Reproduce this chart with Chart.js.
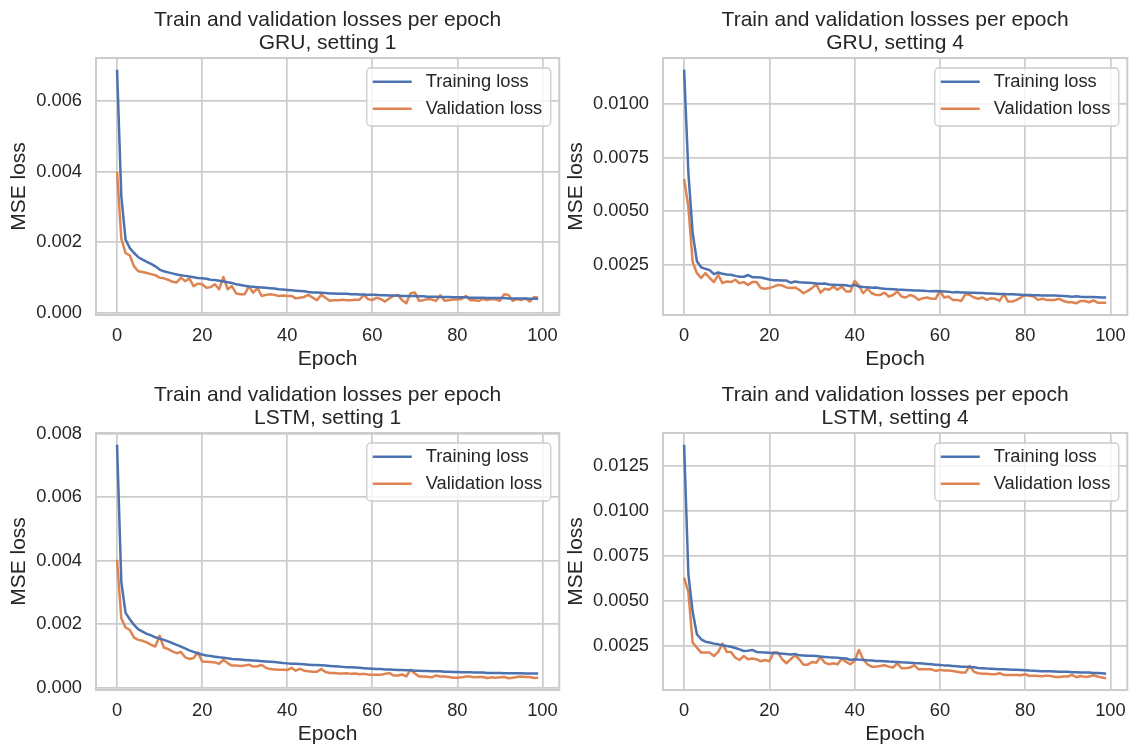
<!DOCTYPE html>
<html>
<head>
<meta charset="utf-8">
<title>Train and validation losses</title>
<script src="https://cdn.jsdelivr.net/npm/chart.js@4.4.1/dist/chart.umd.min.js"></script>
<style>
  body { margin: 0; background: #fff; width: 1136px; height: 749px; overflow: hidden; position: relative; }
  .panel { position: absolute; }
</style>
</head>
<body>
<div class="panel" style="left:0;top:0"><canvas id="gru1" width="568" height="374"></canvas></div>
<div class="panel" style="left:560px;top:0"><canvas id="gru4" width="576" height="374"></canvas></div>
<div class="panel" style="left:0;top:375px"><canvas id="lstm1" width="568" height="374"></canvas></div>
<div class="panel" style="left:560px;top:375px"><canvas id="lstm4" width="576" height="374"></canvas></div>
<script>
// losses per epoch, 100 epochs each
var gru1Train = [0.0069, 0.0033, 0.00207, 0.00183, 0.00169, 0.00157, 0.00150, 0.00144, 0.00138, 0.00131,
  0.00122, 0.00117, 0.00114, 0.00111, 0.00108, 0.00106, 0.00104, 0.00102, 0.00100, 0.00098,
  0.00097, 0.00096, 0.00093, 0.00092, 0.00090, 0.00088, 0.00086, 0.00084, 0.00080, 0.00078,
  0.00076, 0.00074, 0.00073, 0.00072, 0.00071, 0.00070, 0.00069, 0.00068, 0.00066, 0.00065,
  0.00064, 0.00063, 0.00062, 0.00061, 0.00060, 0.00058, 0.00057, 0.00057, 0.00056, 0.00055,
  0.00054, 0.00054, 0.00053, 0.00053, 0.00053, 0.00052, 0.00052, 0.00051, 0.00051, 0.00050,
  0.00050, 0.00050, 0.00049, 0.00049, 0.00048, 0.00048, 0.00048, 0.00047, 0.00047, 0.00047,
  0.00047, 0.00046, 0.00046, 0.00045, 0.00045, 0.00045, 0.00044, 0.00044, 0.00044, 0.00043,
  0.00043, 0.00043, 0.00043, 0.00042, 0.00042, 0.00042, 0.00042, 0.00041, 0.00041, 0.00041,
  0.00041, 0.00041, 0.00040, 0.00040, 0.00040, 0.00040, 0.00040, 0.00039, 0.00039, 0.00039]

var gru1Val = [0.0040, 0.0021, 0.00169, 0.00162, 0.00131, 0.00117, 0.00115, 0.00112, 0.00109, 0.00106,
  0.00099, 0.00097, 0.00093, 0.00087, 0.00085, 0.00099, 0.00089, 0.00096, 0.00075, 0.00082,
  0.00080, 0.00070, 0.00072, 0.00080, 0.00066, 0.00101, 0.00066, 0.00075, 0.00054, 0.00052,
  0.00052, 0.00074, 0.00056, 0.00069, 0.00047, 0.00050, 0.00052, 0.00050, 0.00047, 0.00048,
  0.00047, 0.00047, 0.00040, 0.00042, 0.00044, 0.00050, 0.00042, 0.00035, 0.00050, 0.00042,
  0.00033, 0.00035, 0.00035, 0.00036, 0.00035, 0.00035, 0.00036, 0.00036, 0.00050, 0.00038,
  0.00035, 0.00042, 0.00038, 0.00031, 0.00040, 0.00047, 0.00050, 0.00035, 0.00026, 0.00055,
  0.00057, 0.00033, 0.00035, 0.00038, 0.00037, 0.00033, 0.00049, 0.00033, 0.00035, 0.00037,
  0.00037, 0.00038, 0.00047, 0.00035, 0.00035, 0.00033, 0.00038, 0.00035, 0.00038, 0.00037,
  0.00033, 0.00052, 0.00050, 0.00033, 0.00038, 0.00035, 0.00040, 0.00031, 0.00044, 0.00042]

var gru4Train = [0.0116, 0.0068, 0.0040, 0.00266, 0.00238, 0.00231, 0.00225, 0.00206, 0.00214, 0.00208,
  0.00204, 0.00203, 0.00198, 0.00194, 0.00194, 0.00202, 0.00192, 0.00192, 0.00190, 0.00186,
  0.00181, 0.00178, 0.00178, 0.00177, 0.00176, 0.00166, 0.00172, 0.00168, 0.00167, 0.00166,
  0.00165, 0.00163, 0.00161, 0.00162, 0.00158, 0.00157, 0.00155, 0.00155, 0.00154, 0.00150,
  0.00156, 0.00148, 0.00146, 0.00145, 0.00143, 0.00144, 0.00140, 0.00138, 0.00137, 0.00136,
  0.00134, 0.00133, 0.00132, 0.00131, 0.00130, 0.00130, 0.00129, 0.00127, 0.00126, 0.00127,
  0.00126, 0.00125, 0.00124, 0.00121, 0.00123, 0.00120, 0.00121, 0.00119, 0.00119, 0.00118,
  0.00118, 0.00116, 0.00116, 0.00115, 0.00113, 0.00114, 0.00112, 0.00112, 0.00111, 0.00110,
  0.00109, 0.00109, 0.00108, 0.00108, 0.00107, 0.00107, 0.00106, 0.00106, 0.00105, 0.00104,
  0.00103, 0.00101, 0.00103, 0.00101, 0.00100, 0.00100, 0.00099, 0.00098, 0.00097, 0.00097]

var gru4Val = [0.0065, 0.0052, 0.00263, 0.00211, 0.00188, 0.00211, 0.00188, 0.00169, 0.00203, 0.00164,
  0.00172, 0.00169, 0.00180, 0.00164, 0.00169, 0.00156, 0.00169, 0.00169, 0.00141, 0.00138,
  0.00141, 0.00148, 0.00156, 0.00153, 0.00144, 0.00141, 0.00144, 0.00133, 0.00117, 0.00128,
  0.00141, 0.00159, 0.00120, 0.00138, 0.00133, 0.00148, 0.00133, 0.00148, 0.00125, 0.00125,
  0.00175, 0.00153, 0.00117, 0.00138, 0.00117, 0.00109, 0.00109, 0.00120, 0.00102, 0.00109,
  0.00125, 0.00102, 0.00097, 0.00109, 0.00102, 0.00086, 0.00094, 0.00097, 0.00091, 0.00091,
  0.00128, 0.00097, 0.00102, 0.00086, 0.00086, 0.00081, 0.00113, 0.00109, 0.00097, 0.00091,
  0.00097, 0.00086, 0.00094, 0.00091, 0.00081, 0.00113, 0.00078, 0.00078, 0.00086, 0.00097,
  0.00109, 0.00105, 0.00102, 0.00086, 0.00091, 0.00086, 0.00086, 0.00086, 0.00091, 0.00081,
  0.00075, 0.00075, 0.00070, 0.00081, 0.00081, 0.00075, 0.00084, 0.00073, 0.00073, 0.00073]

var lstm1Train = [0.00765, 0.00333, 0.00236, 0.00216, 0.00198, 0.00184, 0.00177, 0.00170, 0.00165, 0.00159,
  0.00155, 0.00151, 0.00146, 0.00141, 0.00135, 0.00130, 0.00124, 0.00118, 0.00113, 0.00109,
  0.00105, 0.00102, 0.00100, 0.00098, 0.00096, 0.00095, 0.00093, 0.00091, 0.00090, 0.00089,
  0.00088, 0.00087, 0.00086, 0.00085, 0.00084, 0.00083, 0.00082, 0.00081, 0.00080, 0.00078,
  0.00077, 0.00076, 0.00076, 0.00075, 0.00074, 0.00073, 0.00072, 0.00072, 0.00071, 0.00070,
  0.00069, 0.00068, 0.00067, 0.00066, 0.00065, 0.00065, 0.00064, 0.00063, 0.00062, 0.00061,
  0.00060, 0.00059, 0.00059, 0.00058, 0.00058, 0.00057, 0.00056, 0.00056, 0.00055, 0.00055,
  0.00054, 0.00054, 0.00053, 0.00053, 0.00052, 0.00052, 0.00052, 0.00051, 0.00051, 0.00050,
  0.00050, 0.00049, 0.00049, 0.00049, 0.00048, 0.00048, 0.00048, 0.00047, 0.00047, 0.00047,
  0.00047, 0.00046, 0.00046, 0.00046, 0.00046, 0.00046, 0.00045, 0.00045, 0.00045, 0.00045]

var lstm1Val = [0.00403, 0.00219, 0.00190, 0.00182, 0.00158, 0.00151, 0.00148, 0.00143, 0.00135, 0.00130,
  0.00164, 0.00127, 0.00122, 0.00115, 0.00109, 0.00113, 0.00096, 0.00091, 0.00094, 0.00111,
  0.00083, 0.00082, 0.00081, 0.00080, 0.00076, 0.00088, 0.00078, 0.00070, 0.00070, 0.00069,
  0.00070, 0.00073, 0.00067, 0.00068, 0.00072, 0.00063, 0.00059, 0.00058, 0.00057, 0.00057,
  0.00056, 0.00063, 0.00054, 0.00060, 0.00054, 0.00052, 0.00051, 0.00051, 0.00059, 0.00050,
  0.00047, 0.00047, 0.00045, 0.00045, 0.00046, 0.00044, 0.00045, 0.00043, 0.00044, 0.00042,
  0.00041, 0.00041, 0.00041, 0.00044, 0.00047, 0.00039, 0.00039, 0.00042, 0.00036, 0.00057,
  0.00045, 0.00036, 0.00036, 0.00035, 0.00033, 0.00039, 0.00036, 0.00036, 0.00034, 0.00032,
  0.00032, 0.00033, 0.00036, 0.00036, 0.00033, 0.00034, 0.00034, 0.00031, 0.00033, 0.00032,
  0.00033, 0.00034, 0.00030, 0.00032, 0.00034, 0.00036, 0.00034, 0.00034, 0.00031, 0.00032]

var lstm4Train = [0.0137, 0.0065, 0.0044, 0.00315, 0.00287, 0.00274, 0.00269, 0.00263, 0.00259, 0.00254,
  0.00250, 0.00246, 0.00239, 0.00231, 0.00222, 0.00224, 0.00228, 0.00217, 0.00215, 0.00214,
  0.00212, 0.00211, 0.00209, 0.00207, 0.00205, 0.00203, 0.00206, 0.00198, 0.00197, 0.00196,
  0.00195, 0.00194, 0.00191, 0.00189, 0.00187, 0.00186, 0.00184, 0.00182, 0.00180, 0.00172,
  0.00176, 0.00174, 0.00172, 0.00170, 0.00169, 0.00167, 0.00166, 0.00165, 0.00163, 0.00162,
  0.00161, 0.00159, 0.00158, 0.00157, 0.00155, 0.00154, 0.00152, 0.00150, 0.00148, 0.00146,
  0.00144, 0.00142, 0.00141, 0.00139, 0.00137, 0.00135, 0.00134, 0.00133, 0.00131, 0.00128,
  0.00126, 0.00124, 0.00123, 0.00122, 0.00121, 0.00120, 0.00119, 0.00118, 0.00117, 0.00116,
  0.00115, 0.00113, 0.00112, 0.00111, 0.00110, 0.00109, 0.00109, 0.00108, 0.00107, 0.00106,
  0.00106, 0.00104, 0.00104, 0.00103, 0.00102, 0.00102, 0.00100, 0.00099, 0.00098, 0.00096]

var lstm4Val = [0.0063, 0.0055, 0.00269, 0.00241, 0.00213, 0.00213, 0.00213, 0.00194, 0.00217, 0.00263,
  0.00217, 0.00217, 0.00185, 0.00172, 0.00194, 0.00176, 0.00180, 0.00176, 0.00165, 0.00172,
  0.00165, 0.00213, 0.00213, 0.00176, 0.00154, 0.00176, 0.00198, 0.00176, 0.00146, 0.00146,
  0.00161, 0.00157, 0.00189, 0.00157, 0.00148, 0.00154, 0.00148, 0.00180, 0.00161, 0.00148,
  0.00167, 0.00228, 0.00176, 0.00148, 0.00135, 0.00135, 0.00139, 0.00143, 0.00135, 0.00130,
  0.00154, 0.00126, 0.00126, 0.00130, 0.00143, 0.00120, 0.00120, 0.00120, 0.00120, 0.00111,
  0.00117, 0.00113, 0.00113, 0.00111, 0.00107, 0.00102, 0.00102, 0.00139, 0.00106, 0.00098,
  0.00096, 0.00096, 0.00093, 0.00093, 0.00098, 0.00089, 0.00089, 0.00089, 0.00089, 0.00087,
  0.00093, 0.00083, 0.00085, 0.00083, 0.00081, 0.00085, 0.00083, 0.00078, 0.00078, 0.00080,
  0.00080, 0.00089, 0.00076, 0.00083, 0.00078, 0.00080, 0.00087, 0.00080, 0.00074, 0.00070]

// tick values
var epochTicks = [0, 20, 40, 60, 80, 100]
var gru1Ticks = [0, 0.002, 0.004, 0.006]
var gru4Ticks = [0.0025, 0.005, 0.0075, 0.01]
var lstm1Ticks = [0, 0.002, 0.004, 0.006, 0.008]
var lstm4Ticks = [0.0025, 0.005, 0.0075, 0.01, 0.0125]

var seriesNames = ['Training loss', 'Validation loss']
var mainTitle = 'Train and validation losses per epoch'

var epochs = []
for (var i = 0; i < gru1Train.length; i++) epochs.push(i)

var FONT = "'Liberation Sans', Arial, Helvetica, sans-serif"
var TEXT = '#262626'
var GRID = '#cccccc'
var COLORS = ['#4c72b0', '#dd8452']

Chart.defaults.font.family = FONT

// same 5% autoscale margin matplotlib uses
function paddedRange(lists) {
    var lo = Infinity, hi = -Infinity
    lists.forEach(function(l){
        lo = Math.min(lo, Math.min.apply(null, l))
        hi = Math.max(hi, Math.max.apply(null, l))
    })
    var m = (hi - lo) * 0.05
    return [lo - m, hi + m]
}

// axes frame + boxed legend in the upper right corner
var frameAndLegend = {
    id: 'frameAndLegend',
    afterDatasetsDraw: function(chart) {
        var a = chart.chartArea, ctx = chart.ctx
        ctx.save()
        ctx.strokeStyle = GRID
        ctx.lineWidth = 2
        ctx.strokeRect(a.left, a.top, a.right - a.left, a.bottom - a.top)
        ctx.restore()
    },
    afterDraw: function(chart) {
        var a = chart.chartArea, ctx = chart.ctx
        var sets = chart.data.datasets
        ctx.save()
        ctx.font = '18.3px ' + FONT
        var textW = 0
        sets.forEach(function(ds){ textW = Math.max(textW, ctx.measureText(ds.label).width) })
        var w = 6 + 39 + 14 + textW + 8.5
        var h = 58
        var x = a.right - 8.5 - w
        var y = a.top + 10
        ctx.beginPath()
        ctx.roundRect(x, y, w, h, 4)
        ctx.fillStyle = 'rgba(255,255,255,0.8)'
        ctx.fill()
        ctx.strokeStyle = GRID
        ctx.lineWidth = 1.3
        ctx.stroke()
        ctx.textBaseline = 'middle'
        ctx.textAlign = 'left'
        sets.forEach(function(ds, i){
            var ry = y + 13.7 + i * 27
            ctx.beginPath()
            ctx.moveTo(x + 6, ry)
            ctx.lineTo(x + 45, ry)
            ctx.strokeStyle = ds.borderColor
            ctx.lineWidth = 2.5
            ctx.stroke()
            ctx.fillStyle = TEXT
            ctx.fillText(ds.label, x + 59, ry)
        })
        ctx.restore()
    }
}

function makePanel(id, subtitle, train, val, yTicks, decimals, padLeft, yWidth) {
    var yr = paddedRange([train, val])
    var xr = (epochs[epochs.length - 1] - epochs[0]) * 0.05
    return new Chart(document.getElementById(id), {
        type: 'line',
        data: {
            labels: epochs,
            datasets: [train, val].map(function(d, i){
                return {
                    label: seriesNames[i],
                    data: d,
                    borderColor: COLORS[i],
                    backgroundColor: COLORS[i],
                    borderWidth: 2.5,
                    borderJoinStyle: 'round',
                    pointRadius: 0,
                    tension: 0,
                    fill: false
                }
            })
        },
        options: {
            responsive: false,
            animation: false,
            events: [],
            layout: { padding: { left: padLeft, right: 7, top: 0, bottom: 2 } },
            plugins: {
                legend: { display: false },
                tooltip: { enabled: false },
                title: {
                    display: true,
                    text: [mainTitle, subtitle],
                    fullSize: false,
                    color: TEXT,
                    font: { size: 21, weight: 'normal', lineHeight: 1.095 },
                    padding: { top: 8.5, bottom: 3.5 }
                }
            },
            scales: {
                x: {
                    type: 'linear',
                    min: epochs[0] - xr,
                    max: epochs[epochs.length - 1] + xr,
                    afterBuildTicks: function(s){ s.ticks = epochTicks.map(function(v){ return { value: v } }) },
                    afterFit: function(s){ s.height = 57 },
                    grid: { color: GRID, lineWidth: 1.7, drawTicks: false },
                    border: { display: false },
                    ticks: { color: TEXT, font: { size: 18.3 }, padding: 10, maxRotation: 0, autoSkip: false,
                             callback: function(v){ return String(v) } },
                    title: { display: true, text: 'Epoch', color: TEXT, font: { size: 21 }, padding: 0 }
                },
                y: {
                    type: 'linear',
                    min: yr[0],
                    max: yr[1],
                    afterBuildTicks: function(s){ s.ticks = yTicks.map(function(v){ return { value: v } }) },
                    afterFit: function(s){ s.width = yWidth },
                    grid: { color: GRID, lineWidth: 1.7, drawTicks: false },
                    border: { display: false },
                    ticks: { color: TEXT, font: { size: 18.3 }, padding: 14, autoSkip: false,
                             callback: function(v){ return Number(v).toFixed(decimals) } },
                    title: { display: true, text: 'MSE loss', color: TEXT, font: { size: 21 }, padding: 0 }
                }
            }
        },
        plugins: [frameAndLegend]
    })
}

makePanel('gru1', 'GRU, setting 1', gru1Train, gru1Val, gru1Ticks, 3, 7, 89)
makePanel('gru4', 'GRU, setting 4', gru4Train, gru4Val, gru4Ticks, 4, 4, 99)
makePanel('lstm1', 'LSTM, setting 1', lstm1Train, lstm1Val, lstm1Ticks, 3, 7, 89)
makePanel('lstm4', 'LSTM, setting 4', lstm4Train, lstm4Val, lstm4Ticks, 4, 4, 99)
</script>
</body>
</html>
